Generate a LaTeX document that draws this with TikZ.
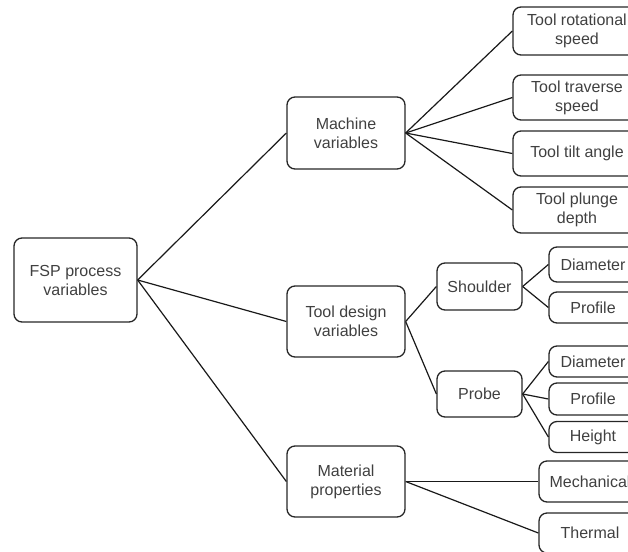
\documentclass[tikz,border=0pt]{standalone}
\usepackage{fontspec}
\setmainfont{Liberation Sans}
\begin{document}
\begin{tikzpicture}[x=1pt,y=-1pt,
	box/.style={draw=black!85,rounded corners=8pt,line width=1.3pt,align=center,inner sep=0pt,
		text=black!75,font=\fontsize{16}{19}\selectfont},
	link/.style={line width=1.2pt,black!90}]
	\useasboundingbox (0,0) rectangle (628,551);
	\clip (0,0) rectangle (628,551);
	% first level
	\node[box,minimum width=123,minimum height=84] (fsp) at (75.5,280) {FSP process\\variables};
	% second level
	\node[box,minimum width=118,minimum height=72] (mach) at (346,133) {Machine\\variables};
	\node[box,minimum width=118,minimum height=71] (tool) at (346,321.5) {Tool design\\variables};
	\node[box,minimum width=118,minimum height=71] (mat) at (346,481.5) {Material\\properties};
	% machine variables
	\node[box,minimum width=128,minimum height=48] (rot) at (577,31) {Tool rotational\\speed};
	\node[box,minimum width=128,minimum height=45] (trav) at (577,97.5) {Tool traverse\\speed};
	\node[box,minimum width=128,minimum height=45] (tilt) at (577,153.5) {Tool tilt angle};
	\node[box,minimum width=128,minimum height=46] (plunge) at (577,210) {Tool plunge\\depth};
	% tool design
	\node[box,minimum width=85,minimum height=47] (shoulder) at (479.5,286.5) {Shoulder};
	\node[box,minimum width=85,minimum height=46] (probe) at (479.5,394) {Probe};
	\node[box,minimum width=88,minimum height=35] (sdia) at (593,264.5) {Diameter};
	\node[box,minimum width=88,minimum height=31] (sprof) at (593,307.5) {Profile};
	\node[box,minimum width=88,minimum height=31] (pdia) at (593,361.5) {Diameter};
	\node[box,minimum width=88,minimum height=32] (pprof) at (593,399) {Profile};
	\node[box,minimum width=88,minimum height=31] (pheight) at (593,437) {Height};
	% material properties
	\node[box,minimum width=102,minimum height=41] (mech) at (590,481.5) {Mechanical};
	\node[box,minimum width=102,minimum height=40] (therm) at (590,533) {Thermal};
	% connectors
	\foreach \a/\b in {fsp/mach,fsp/tool,fsp/mat,mach/rot,mach/trav,mach/tilt,mach/plunge,
		tool/shoulder,tool/probe,shoulder/sdia,shoulder/sprof,probe/pdia,probe/pprof,probe/pheight,
		mat/mech,mat/therm}
		\draw[link] (\a.east) -- (\b.west);
\end{tikzpicture}
\end{document}
